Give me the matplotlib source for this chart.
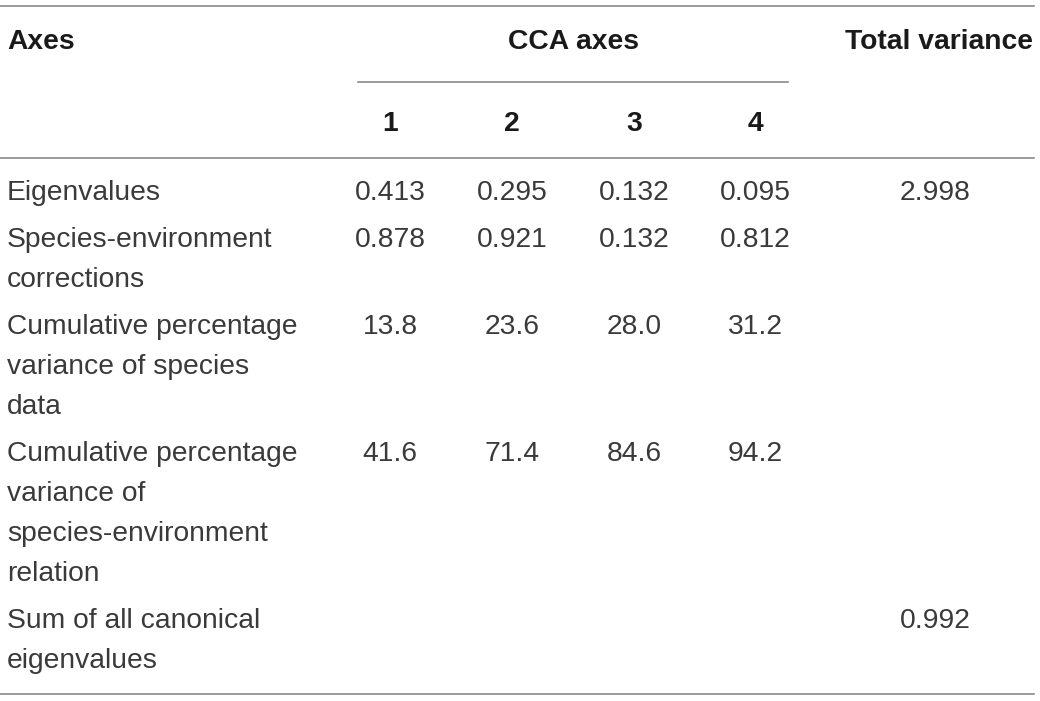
import matplotlib.pyplot as plt

row_labels = ["Eigenvalues",
              "Species-environment\ncorrections",
              "Cumulative percentage\nvariance of species\ndata",
              "Cumulative percentage\nvariance of\nspecies-environment\nrelation",
              "Sum of all canonical\neigenvalues"]
axis_names = ["1", "2", "3", "4"]
cca_values = [["0.413", "0.295", "0.132", "0.095"],
              ["0.878", "0.921", "0.132", "0.812"],
              ["13.8", "23.6", "28.0", "31.2"],
              ["41.6", "71.4", "84.6", "94.2"],
              ["", "", "", ""]]
total_variance = ["2.998", "", "", "", "0.992"]

plt.rcParams['font.family'] = ['Liberation Sans', 'DejaVu Sans']

fig = plt.figure(figsize=(10.4, 7.01), dpi=100)
ax = fig.add_axes([0, 0, 1, 1])
ax.set_xlim(0, 1040)
ax.set_ylim(701, 0)
ax.axis('off')

fs = 20.3
body = '#3a3a3a'
head = '#1a1a1a'
line_c = '#8a8a8a'
col_x = [390, 512, 634, 755]
tot_x = 935

# rules
ax.plot([0, 1034], [6, 6], color=line_c, lw=1.2)
ax.plot([358, 788], [82, 82], color=line_c, lw=1.2)
ax.plot([0, 1034], [158, 158], color=line_c, lw=1.2)
ax.plot([0, 1034], [694, 694], color=line_c, lw=1.2)

# header
ax.text(7, 42, "Axes", fontsize=fs, fontweight='bold', color=head, va='center', ha='left')
ax.text(573, 42, "CCA axes", fontsize=fs, fontweight='bold', color=head, va='center', ha='center')
ax.text(1033, 42, "Total variance", fontsize=fs, fontweight='bold', color=head, va='center', ha='right')
for x, n in zip(col_x, axis_names):
    ax.text(x, 124, n, fontsize=fs, fontweight='bold', color=head, va='center', ha='center')

# body
y = 193
for label, vals, tot in zip(row_labels, cca_values, total_variance):
    lines = label.split("\n")
    for i, ln in enumerate(lines):
        ax.text(7, y + i * 40, ln, fontsize=fs, color=body, va='center', ha='left')
    for x, v in zip(col_x, vals):
        ax.text(x, y, v, fontsize=fs, color=body, va='center', ha='center')
    ax.text(tot_x, y, tot, fontsize=fs, color=body, va='center', ha='center')
    y += len(lines) * 40 + 7

fig.savefig("out.png", dpi=100)
